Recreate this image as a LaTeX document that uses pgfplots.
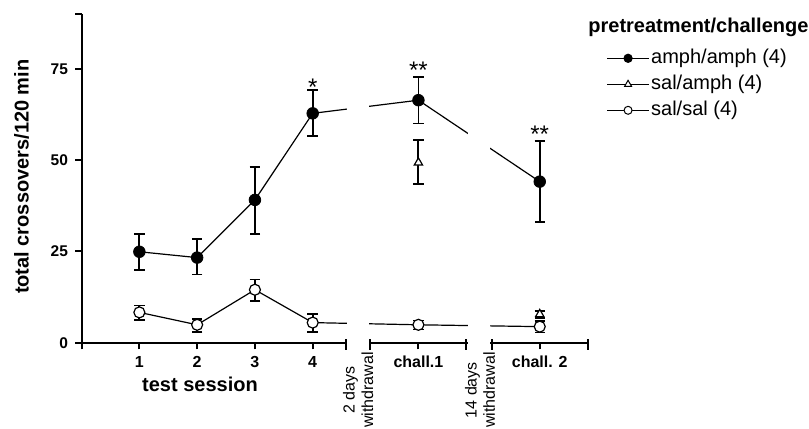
\documentclass[border=0pt]{standalone}
\usepackage{fontspec}
\setmainfont{Liberation Sans}
\usepackage{pgfplots}
\pgfplotsset{compat=1.18}
\newcommand{\LegFont}{\fontsize{10bp}{12bp}\selectfont}
\newcommand{\BigBold}{\fontsize{10bp}{12bp}\selectfont\bfseries}
\newcommand{\RotFont}{\fontsize{8bp}{9.6bp}\selectfont}
\newcommand{\StarFont}{\fontsize{12bp}{14bp}\selectfont}
\newcommand{\XTickFont}{\fontsize{8bp}{9.6bp}\selectfont\bfseries}
\newcommand{\YTickFont}{\fontsize{7.75bp}{9.3bp}\selectfont\bfseries}
\begin{document}
\begin{tikzpicture}
\begin{axis}[
  set layers,
  at={(40.8bp,43.15bp)}, anchor=south west,
  scale only axis, width=253.05bp, height=164.35bp,
  xmin=0, xmax=8.76, ymin=0, ymax=90,
  clip=false,
  axis lines*=left,
  axis line style={line width=1bp, black},
  every tick/.style={line width=1bp, black},
  tick align=outside,
  major tick length=3.3bp,
  xtick={0,1,2,3,4,5.83,7.93},
  xticklabels={,1,2,3,4,chall.1,chall. 2},
  ytick={0,25,50,75,90},
  yticklabels={0,25,50,75,},
  xticklabel style={font=\XTickFont},
  yticklabel style={font=\YTickFont},
  legend style={at={(1.0375,0.9048)}, anchor=north west, draw=none, fill=none,
    inner sep=0pt, outer sep=0pt, row sep=0pt, font=\LegFont,
    nodes={font=\LegFont, inner xsep=0.85bp, inner ysep=1.5bp, text height=7.5bp, text depth=2.5bp}},
  legend cell align=left,
]
% amph/amph
\addplot[black, line width=0.6bp, mark=*, mark size=2.9bp, mark options={fill=black, line width=0.4bp},
  legend image code/.code={\draw[black, line width=0.6bp] (0bp,0bp) -- (20.8bp,0bp);
     \draw[black, mark=*, mark size=2bp, mark options={fill=black}] plot coordinates {(10.4bp,0bp)};},
  error bars/.cd, y dir=both, y explicit, error mark=-,
  error bar style={line width=0.9bp},
  error mark options={rotate=90, line width=0.9bp, mark size=2.6bp}]
coordinates {
 (1,24.9) += (0,4.9) -= (0,4.9)
 (2,23.3) += (0,5.1) -= (0,4.6)
 (3,39.1) += (0,9.1) -= (0,9.3)
 (4,62.8) += (0,6.4) -= (0,6.2)
 (5.83,66.4) += (0,6.4) -= (0,6.4)
 (7.93,44.1) += (0,11.1) -= (0,11.1)
};
\addlegendentry{\LegFont amph/amph (4)}
% sal/amph
\addplot[black, only marks, mark=triangle*, mark size=2.4bp, mark options={fill=white, line width=0.6bp},
  legend image code/.code={\draw[black, line width=0.6bp] (0bp,0bp) -- (20.8bp,0bp);
     \draw[black, mark=triangle*, mark size=2bp, mark options={fill=white, line width=0.5bp}] plot coordinates {(10.4bp,0bp)};},
  error bars/.cd, y dir=both, y explicit, error mark=-,
  error bar style={line width=1bp},
  error mark options={rotate=90, line width=1bp, mark size=2.6bp}]
coordinates {
 (5.83,49.3) += (0,6.1) -= (0,5.9)
 (7.93,7.8) += (0,1.0) -= (0,1.0)
};
\addlegendentry{\LegFont sal/amph (4)}
% sal/sal
\addplot[black, line width=0.6bp, mark=*, mark size=2.75bp, mark options={fill=white, line width=0.6bp},
  legend image code/.code={\draw[black, line width=0.6bp] (0bp,0bp) -- (20.8bp,0bp);
     \draw[black, mark=*, mark size=2bp, mark options={fill=white, line width=0.5bp}] plot coordinates {(10.4bp,0bp)};},
  error bars/.cd, y dir=both, y explicit, error mark=-,
  error bar style={line width=0.9bp},
  error mark options={rotate=90, line width=0.9bp, mark size=2.6bp}]
coordinates {
 (1,8.3) += (0,1.9) -= (0,2.0)
 (2,4.9) += (0,1.6) -= (0,1.9)
 (3,14.5) += (0,2.8) -= (0,3.0)
 (4,5.5) += (0,2.4) -= (0,2.5)
 (5.83,4.9) += (0,1.2) -= (0,1.3)
 (7.93,4.4) += (0,1.5) -= (0,1.6)
};
\addlegendentry{\LegFont sal/sal (4)}
% significance stars
\node[anchor=base, font=\StarFont] at (axis cs:4,67.8) {*};
\node[anchor=base, font=\StarFont] at (axis cs:5.83,72.3) {**};
\node[anchor=base, font=\StarFont] at (axis cs:7.93,54.7) {**};
% gaps in the axis
\begin{pgfonlayer}{axis foreground}
\fill[white] (axis cs:4.595,-0.8) rectangle (axis cs:4.975,90);
\fill[white] (axis cs:6.685,-0.8) rectangle (axis cs:7.075,90);
\draw[line width=1bp] (axis cs:4.57,0) ++(0,1.7bp) -- ++(0,-5.2bp);
\draw[line width=1bp] (axis cs:5.0,0) ++(0,1.7bp) -- ++(0,-5.2bp);
\draw[line width=1bp] (axis cs:6.66,0) ++(0,1.7bp) -- ++(0,-5.2bp);
\draw[line width=1bp] (axis cs:7.1,0) ++(0,1.7bp) -- ++(0,-5.2bp);
\draw[line width=1bp] (axis cs:8.76,0) ++(0,1.7bp) -- ++(0,-5.2bp);
\end{pgfonlayer}
\end{axis}
% texts outside the axis
\node[rotate=90, anchor=base, font=\BigBold] at (14.25bp,126.15bp) {total crossovers/120 min};
\node[anchor=base, font=\BigBold] at (100bp,18.65bp) {test session};
\node[anchor=base west, inner sep=0pt, font=\BigBold] at (294bp,198.25bp) {pretreatment/challenge};
\node[rotate=90, anchor=base, font=\RotFont] at (177.25bp,19.4bp) {2 days};
\node[rotate=90, anchor=base, font=\RotFont] at (186.6bp,19.4bp) {withdrawal};
\node[rotate=90, anchor=base, font=\RotFont] at (238.25bp,19.4bp) {14 days};
\node[rotate=90, anchor=base, font=\RotFont] at (247.4bp,19.4bp) {withdrawal};
\pgfresetboundingbox
\useasboundingbox (0,0) rectangle (404.5bp,214.5bp);
\end{tikzpicture}
\end{document}
